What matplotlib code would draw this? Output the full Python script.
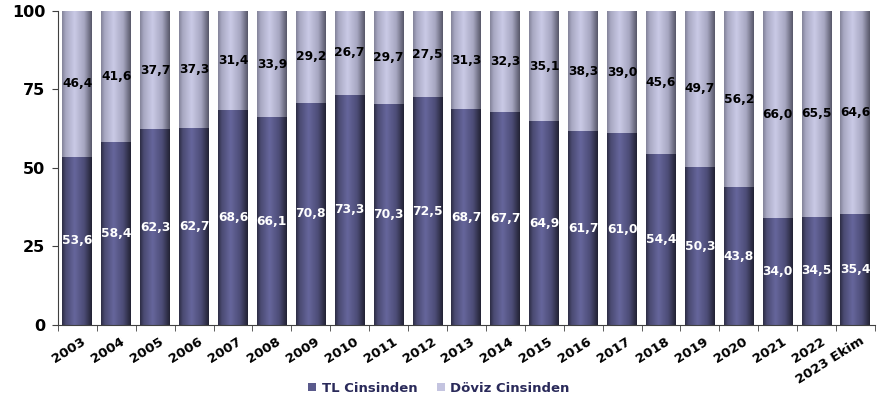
import matplotlib
matplotlib.use("Agg")
import matplotlib.pyplot as plt
import numpy as np
from matplotlib.colors import LinearSegmentedColormap

years = ["2003", "2004", "2005", "2006", "2007", "2008", "2009", "2010", "2011", "2012",
         "2013", "2014", "2015", "2016", "2017", "2018", "2019", "2020", "2021", "2022",
         "2023 Ekim"]
tl = [53.6, 58.4, 62.3, 62.7, 68.6, 66.1, 70.8, 73.3, 70.3, 72.5,
      68.7, 67.7, 64.9, 61.7, 61.0, 54.4, 50.3, 43.8, 34.0, 34.5, 35.4]
doviz = [46.4, 41.6, 37.7, 37.3, 31.4, 33.9, 29.2, 26.7, 29.7, 27.5,
         31.3, 32.3, 35.1, 38.3, 39.0, 45.6, 49.7, 56.2, 66.0, 65.5, 64.6]
series_names = ["TL Cinsinden", "Döviz Cinsinden"]

plt.rcParams['font.family'] = ['DejaVu Sans']

fig = plt.figure(figsize=(8.78, 3.97), dpi=100)
ax = fig.add_axes([0.066, 0.1814, 0.9305, 0.791])

x = np.arange(len(years))
w = 0.77
dark_cmap = LinearSegmentedColormap.from_list(
    "dk", [(0, "#2e2e46"), (0.12, "#4a4a72"), (0.42, "#66669c"), (0.75, "#4c4c76"), (1, "#222234")])
light_cmap = LinearSegmentedColormap.from_list(
    "lt", [(0, "#84849a"), (0.12, "#a8a8c2"), (0.42, "#cacae6"), (0.75, "#a6a6c0"), (1, "#58586a")])

b1 = ax.bar(x, tl, w, color="#5a5a8c", label=series_names[0])
b2 = ax.bar(x, doviz, w, bottom=tl, color="#c4c4e0", label=series_names[1])

grad = np.linspace(0, 1, 64).reshape(1, -1)
for bars, cmap in ((b1, dark_cmap), (b2, light_cmap)):
    for p in bars:
        x0, y0 = p.get_x(), p.get_y()
        im = ax.imshow(grad, cmap=cmap, aspect='auto', interpolation='bilinear',
                       extent=[x0, x0 + p.get_width(), y0, y0 + p.get_height()], zorder=2)
        im.set_clip_path(p)

for i in range(len(years)):
    ax.text(x[i], tl[i] / 2, f"{tl[i]:.1f}".replace('.', ','), ha='center', va='center',
            color='white', fontsize=8.8, fontweight='bold', zorder=3)
    ax.text(x[i], tl[i] + doviz[i] / 2, f"{doviz[i]:.1f}".replace('.', ','), ha='center', va='center',
            color='black', fontsize=8.8, fontweight='bold', zorder=3)

ax.set_xlim(-0.5, len(years) - 0.5)
ax.set_ylim(0, 100)
ax.set_yticks([0, 25, 50, 75, 100])
ax.set_yticklabels(["0", "25", "50", "75", "100"], fontsize=11.5, fontweight='bold')
ax.set_xticks(x + 0.1)
ax.set_xticklabels(years, rotation=32, ha='right', rotation_mode='anchor',
                   fontsize=9.5, fontweight='bold')
ax.tick_params(axis='x', length=0, pad=7)
ax.set_xticks(np.arange(-0.5, len(years), 1), minor=True)
ax.tick_params(axis='x', which='minor', length=4, color='#404040')
ax.tick_params(axis='y', length=4, color='#404040', pad=5)
for s in ['top', 'right']:
    ax.spines[s].set_visible(False)
ax.spines['left'].set_color('#404040')
ax.spines['bottom'].set_color('#404040')

leg = fig.legend(handles=[b1, b2], labels=series_names, loc='center', bbox_to_anchor=(0.5, 0.022),
                 ncol=2, frameon=False, handlelength=0.6, handleheight=0.6, handletextpad=0.4,
                 columnspacing=1.5, prop={'size': 9.5, 'weight': 'bold'})
for t in leg.get_texts():
    t.set_color('#2a2a5a')

fig.savefig("out.png", dpi=100)
